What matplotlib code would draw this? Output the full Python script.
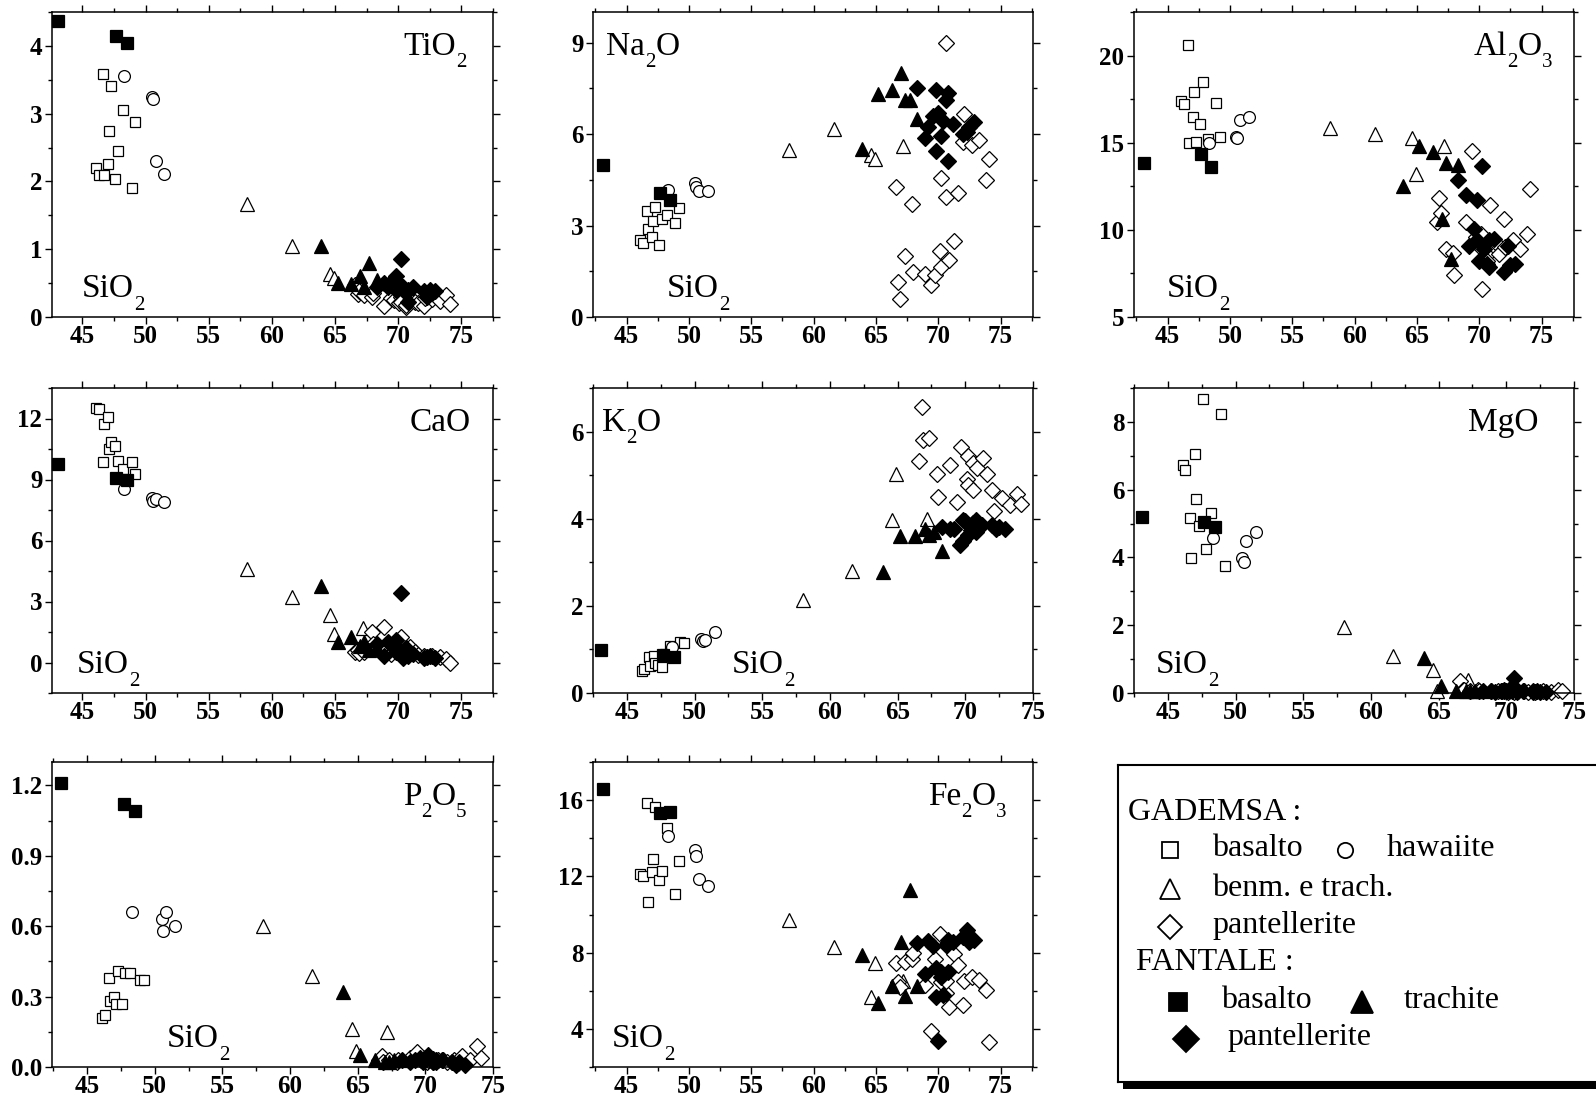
import matplotlib
matplotlib.use("Agg")
import matplotlib.pyplot as plt
from matplotlib.patches import Rectangle
from matplotlib.ticker import MultipleLocator
from matplotlib.transforms import offset_copy

plt.rcParams['font.family'] = ['Liberation Serif', 'DejaVu Serif']

# GADEMSA basalto (open squares)
gb_sio2 = [46.1, 46.3, 46.6, 46.7, 47.0, 47.1, 47.3, 47.6, 47.8, 48.2, 48.9, 49.2]
gb_tio2 = [2.20, 2.10, 3.59, 2.10, 2.26, 2.74, 3.41, 2.03, 2.45, 3.06, 1.91, 2.88]
gb_na2o = [2.51, 2.43, 3.47, 2.89, 2.62, 3.14, 3.60, 2.35, 3.22, 3.33, 3.08, 3.58]
gb_al2o3 = [17.4, 17.2, 20.6, 14.96, 16.45, 17.9, 15.02, 16.07, 18.5, 15.2, 17.3, 15.3]
gb_cao = [12.52, 12.46, 9.84, 11.75, 12.08, 10.5, 10.85, 10.65, 9.93, 9.51, 9.84, 9.25]
gb_k2o = [0.51, 0.55, 0.82, 0.63, 0.86, 0.70, 0.65, 0.60, 0.90, 1.09, 1.17, 1.15]
gb_mgo = [6.74, 6.59, 5.15, 3.97, 7.05, 5.73, 4.93, 8.68, 4.24, 5.32, 8.23, 3.75]
gb_p2o5 = [0.21, 0.22, 0.38, 0.28, 0.30, 0.27, 0.41, 0.27, 0.40, 0.40, 0.37, 0.37]
gb_fe2o3 = [12.14, 12.03, 15.86, 10.67, 12.22, 12.89, 15.65, 11.82, 12.3, 14.54, 11.09, 12.8]

# GADEMSA hawaiite (open circles)
gh_sio2 = [48.3, 50.5, 50.6, 50.8, 51.5]
gh_tio2 = [3.56, 3.24, 3.21, 2.30, 2.11]
gh_na2o = [4.17, 4.39, 4.26, 4.13, 4.12]
gh_al2o3 = [15.0, 15.35, 15.25, 16.33, 16.45]
gh_cao = [8.52, 8.10, 7.95, 8.03, 7.87]
gh_k2o = [1.05, 1.25, 1.19, 1.22, 1.40]
gh_mgo = [4.56, 3.97, 3.87, 4.49, 4.74]
gh_p2o5 = [0.66, 0.63, 0.58, 0.66, 0.60]
gh_fe2o3 = [14.14, 13.4, 13.07, 11.87, 11.47]

# GADEMSA benmoreiti e trachiti (open triangles)
gt_sio2 = [58.0, 61.6, 64.6, 64.9, 67.2]
gt_tio2 = [1.66, 1.05, 0.63, 0.57, 0.45]
gt_na2o = [5.49, 6.17, 5.30, 5.19, 5.60]
gt_al2o3 = [15.82, 15.5, 15.25, 13.2, 14.8]
gt_cao = [4.62, 3.23, 2.36, 1.41, 1.70]
gt_k2o = [2.14, 2.79, 3.96, 5.03, 4.00]
gt_mgo = [1.96, 1.10, 0.67, 0.05, 0.39]
gt_p2o5 = [0.60, 0.39, 0.16, 0.07, 0.15]
gt_fe2o3 = [9.7, 8.27, 5.69, 7.43, 6.5]

# GADEMSA pantellerite (open diamonds)
gp_sio2 = [66.6, 66.8, 66.9, 67.3, 67.9, 68.0, 68.9, 69.4, 69.7, 70.1, 70.2, 70.2,
           70.6, 70.6, 70.9, 71.3, 71.6, 72.0, 72.1, 72.7, 73.3, 73.8, 74.1]
gp_tio2 = [0.47, 0.34, 0.39, 0.32, 0.30, 0.35, 0.16, 0.28, 0.25, 0.20, 0.30, 0.22,
           0.15, 0.18, 0.25, 0.22, 0.20, 0.16, 0.28, 0.26, 0.23, 0.32, 0.19]
gp_na2o = [4.26, 1.15, 0.58, 1.99, 3.71, 1.47, 1.42, 1.04, 1.37, 2.16, 4.55, 1.64,
           8.97, 3.93, 1.88, 2.49, 4.07, 5.73, 6.64, 5.64, 5.80, 4.48, 5.19]
gp_al2o3 = [10.44, 11.8, 10.97, 8.9, 8.7, 7.39, 10.44, 14.5, 9.58, 9.77, 8.9, 6.6,
            8.53, 8.24, 11.4, 9.3, 8.63, 10.63, 9.0, 9.39, 8.9, 9.77, 12.35]
gp_cao = [0.52, 0.60, 0.45, 0.50, 1.48, 0.90, 1.75, 0.40, 0.80, 1.00, 1.26, 0.50,
          0.70, 0.40, 0.77, 0.50, 0.35, 0.30, 0.25, 0.30, 0.26, 0.18, 0.0]
gp_k2o = [5.33, 6.56, 5.81, 5.85, 5.03, 4.49, 5.23, 4.38, 5.64, 4.92, 5.43, 4.78,
          4.67, 5.28, 5.16, 5.39, 5.03, 4.65, 4.17, 4.48, 4.31, 4.57, 4.34]
gp_mgo = [0.36, 0.10, 0.08, 0.06, 0.10, 0.05, 0.07, 0.05, 0.06, 0.04, 0.08, 0.05,
          0.06, 0.04, 0.05, 0.06, 0.04, 0.05, 0.03, 0.06, 0.04, 0.10, 0.07]
gp_p2o5 = [0.03, 0.045, 0.02, 0.03, 0.02, 0.03, 0.04, 0.063, 0.03, 0.02, 0.04, 0.03,
           0.035, 0.02, 0.03, 0.03, 0.02, 0.02, 0.03, 0.045, 0.03, 0.088, 0.04]
gp_fe2o3 = [7.43, 6.47, 6.18, 7.52, 7.69, 7.99, 6.3, 3.91, 7.69, 8.97, 6.47, 7.0,
            5.86, 6.53, 5.17, 7.95, 7.34, 5.25, 6.5, 6.73, 6.56, 6.04, 3.3]

# FANTALE basalto (filled squares)
fb_sio2 = [43.1, 47.7, 48.5]
fb_tio2 = [4.36, 4.15, 4.04]
fb_na2o = [4.99, 4.06, 3.82]
fb_al2o3 = [13.82, 14.35, 13.63]
fb_cao = [9.74, 9.05, 8.97]
fb_k2o = [0.99, 0.88, 0.82]
fb_mgo = [5.20, 5.05, 4.90]
fb_p2o5 = [1.21, 1.12, 1.09]
fb_fe2o3 = [16.6, 15.3, 15.4]

# FANTALE trachite (filled triangles)
ft_sio2 = [63.9, 65.2, 66.3, 67.0, 67.3, 67.7, 68.3]
ft_tio2 = [1.05, 0.50, 0.49, 0.60, 0.45, 0.80, 0.55]
ft_na2o = [5.51, 7.31, 7.45, 7.99, 7.10, 7.12, 6.50]
ft_al2o3 = [12.5, 14.8, 14.45, 10.65, 13.82, 8.34, 13.7]
ft_cao = [3.77, 1.02, 1.26, 0.80, 1.00, 0.60, 0.70]
ft_k2o = [2.77, 3.61, 3.60, 3.77, 3.63, 3.70, 3.27]
ft_mgo = [1.03, 0.22, 0.05, 0.05, 0.05, 0.05, 0.05]
ft_p2o5 = [0.32, 0.05, 0.03, 0.02, 0.02, 0.03, 0.03]
ft_fe2o3 = [7.87, 5.34, 6.24, 8.55, 5.72, 11.27, 6.24]

# FANTALE pantellerite (filled diamonds)
fp_sio2 = [68.3, 68.9, 69.2, 69.6, 69.8, 69.8, 70.0, 70.2, 70.4, 70.6, 70.8, 70.8,
           71.2, 72.0, 72.3, 72.5, 72.9]
fp_tio2 = [0.45, 0.50, 0.45, 0.55, 0.60, 0.40, 0.50, 0.85, 0.45, 0.35, 0.40, 0.22,
           0.45, 0.39, 0.30, 0.40, 0.38]
fp_na2o = [7.52, 5.86, 6.24, 6.60, 7.45, 5.44, 6.70, 5.95, 6.44, 7.10, 7.35, 5.13,
           6.33, 6.00, 6.06, 6.24, 6.38]
fp_al2o3 = [12.86, 12.0, 9.1, 10.06, 11.7, 9.39, 8.24, 13.68, 8.9, 8.05, 7.86, 9.39,
            9.5, 7.58, 9.1, 7.96, 8.05]
fp_cao = [0.90, 0.30, 1.00, 0.80, 0.50, 1.10, 0.60, 3.44, 0.20, 0.70, 0.50, 0.30,
          0.40, 0.20, 0.25, 0.30, 0.20]
fp_k2o = [3.81, 3.77, 3.77, 3.40, 3.98, 3.50, 3.94, 3.63, 3.75, 3.90, 3.70, 3.96,
          3.85, 3.85, 3.77, 3.80, 3.77]
fp_mgo = [0.05, 0.05, 0.03, 0.06, 0.05, 0.10, 0.05, 0.08, 0.05, 0.44, 0.06, 0.04,
          0.05, 0.04, 0.05, 0.04, 0.03]
fp_p2o5 = [0.03, 0.02, 0.03, 0.04, 0.02, 0.03, 0.04, 0.05, 0.03, 0.02, 0.03, 0.02,
           0.03, 0.02, 0.01, 0.02, 0.01]
fp_fe2o3 = [8.53, 6.9, 8.62, 8.34, 7.17, 5.69, 3.34, 6.73, 5.78, 8.4, 8.65, 7.0,
            8.56, 8.83, 9.17, 8.56, 8.65]

oxides = ['tio2', 'na2o', 'al2o3', 'cao', 'k2o', 'mgo', 'p2o5', 'fe2o3']
oxide_labels = ['TiO2', 'Na2O', 'Al2O3', 'CaO', 'K2O', 'MgO', 'P2O5', 'Fe2O3']
y_ticks = [[0, 1, 2, 3, 4], [0, 3, 6, 9], [5, 10, 15, 20], [0, 3, 6, 9, 12],
           [0, 2, 4, 6], [0, 2, 4, 6, 8], [0.0, 0.3, 0.6, 0.9, 1.2], [4, 8, 12, 16]]

g = globals()
# group prefix, marker, face colour, size (open first, filled drawn on top)
groups = [('gb', 's', 'white', 7.5), ('gh', 'o', 'white', 8.5), ('gt', '^', 'white', 10),
          ('gp', 'D', 'white', 8), ('fb', 's', 'black', 8), ('ft', '^', 'black', 10),
          ('fp', 'D', 'black', 8)]

# layout (pixels of the 1596x1099 figure)
W, H = 1596, 1099
col_left = [52, 593, 1134]
col_width = [441, 440, 440]
row_top = [12, 388, 762]
row_height = [305, 305, 305]
xlims = [(42.6, 77.5), (42.3, 77.6), (42.3, 77.6), (42.6, 77.5),
         (42.5, 75.0), (42.5, 75.0), (42.4, 75.0), (42.3, 77.6)]
ylims = [(0, 4.5), (0, 10), (5, 22.5), (-1.5, 13.5), (0, 7), (0, 9), (0, 1.3), (2, 18)]
y_minor = [0.5, 1.5, 2.5, 1.5, 1, 1, 0.15, 2]
ox_pos = [(0.94, 'right'), (0.03, 'left'), (0.95, 'right'), (0.95, 'right'),
          (0.02, 'left'), (0.92, 'right'), (0.94, 'right'), (0.94, 'right')]
si_pos = [0.068, 0.168, 0.075, 0.057, 0.316, 0.05, 0.26, 0.043]

fig = plt.figure(figsize=(W / 100, H / 100), dpi=100)
renderer = fig.canvas.get_renderer()


def chem_label(ax, x, y, label, ha, size=24, sub_size=15, drop=9):
    # split formula into normal text and subscript digits
    parts = []
    for ch in label:
        sub = ch.isdigit()
        if parts and parts[-1][1] == sub:
            parts[-1][0] += ch
        else:
            parts.append([ch, sub])
    widths = []
    for txt, sub in parts:
        t = ax.text(0, 0, txt, fontsize=sub_size if sub else size)
        widths.append(t.get_window_extent(renderer).width * 72 / fig.dpi)
        t.remove()
    dx = 0 if ha == 'left' else -sum(widths)
    for (txt, sub), w in zip(parts, widths):
        tr = offset_copy(ax.transAxes, fig=fig, x=dx, y=-drop if sub else 0, units='points')
        ax.text(x, y, txt, transform=tr, fontsize=sub_size if sub else size,
                ha='left', va='baseline')
        dx += w


for i, ox in enumerate(oxides):
    r, c = divmod(i, 3)
    rect = [col_left[c] / W, 1 - (row_top[r] + row_height[r]) / H,
            col_width[c] / W, row_height[r] / H]
    ax = fig.add_axes(rect)
    for pre, mk, fc, ms in groups:
        ax.plot(g[pre + '_sio2'], g[pre + '_' + ox], linestyle='none', marker=mk,
                markersize=ms, markerfacecolor=fc, markeredgecolor='black',
                markeredgewidth=0.9, clip_on=False)
    ax.set_xlim(*xlims[i])
    ax.set_ylim(*ylims[i])
    ax.set_xticks([45, 50, 55, 60, 65, 70, 75])
    ax.set_yticks(y_ticks[i])
    if ox == 'p2o5':
        ax.set_yticklabels(['%.1f' % v for v in y_ticks[i]])
    ax.xaxis.set_minor_locator(MultipleLocator(2.5))
    ax.yaxis.set_minor_locator(MultipleLocator(y_minor[i]))
    ax.tick_params(which='both', top=True, right=True, direction='out',
                   labelsize=18, width=1.0, pad=2)
    ax.tick_params(axis='x', pad=1)
    ax.tick_params(which='major', length=5)
    ax.tick_params(which='minor', length=3)
    for lab in ax.get_xticklabels() + ax.get_yticklabels():
        lab.set_fontweight('bold')
    for sp in ax.spines.values():
        sp.set_linewidth(1.1)
    xo, ha = ox_pos[i]
    chem_label(ax, xo, 0.86, oxide_labels[i], ha)
    chem_label(ax, si_pos[i], 0.065, 'SiO2', 'left')

# legend box with shadow (right edge runs off the figure)
bx0, bx1, by0, by1 = 1118, 1610, 765, 1082
fig.patches.append(Rectangle(((bx0 + 5) / W, 1 - (by1 + 7) / H), (bx1 - bx0) / W,
                             (by1 - by0) / H, transform=fig.transFigure,
                             facecolor='black', edgecolor='none', zorder=0))
lax = fig.add_axes([bx0 / W, 1 - by1 / H, (bx1 - bx0) / W, (by1 - by0) / H], zorder=2)
lax.set_xlim(bx0, bx1)
lax.set_ylim(by1, by0)
lax.set_xticks([])
lax.set_yticks([])
for sp in lax.spines.values():
    sp.set_linewidth(1.5)

leg_text = [(1128, 812, 'GADEMSA :'), (1212, 848, 'basalto'), (1387, 848, 'hawaiite'),
            (1212, 888, 'benm. e trach.'), (1212, 925, 'pantellerite'),
            (1136, 962, 'FANTALE :'), (1221, 1000, 'basalto'), (1404, 1000, 'trachite'),
            (1227, 1037, 'pantellerite')]
for x, y, t in leg_text:
    lax.text(x, y, t, fontsize=23, ha='left', va='center')

leg_marks = [(1170, 850, 's', 'white', 12), (1345, 850, 'o', 'white', 11),
             (1170, 889, '^', 'white', 15), (1170, 927, 'D', 'white', 12),
             (1178, 1002, 's', 'black', 13), (1362, 1002, '^', 'black', 16),
             (1186, 1039, 'D', 'black', 13)]
for x, y, mk, fc, ms in leg_marks:
    lax.plot([x], [y], marker=mk, markersize=ms, markerfacecolor=fc,
             markeredgecolor='black', markeredgewidth=1.3, linestyle='none')

fig.savefig('out.png', dpi=100)
